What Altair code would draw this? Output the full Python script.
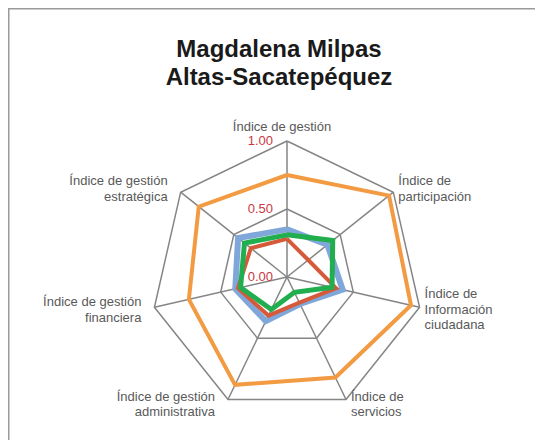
import math
import altair as alt
import pandas as pd

# ---------------- data ----------------
categories = [
    "Índice de gestión",
    "Índice de participación",
    "Índice de Información ciudadana",
    "Índice de servicios",
    "Índice de gestión administrativa",
    "Índice de gestión financiera",
    "Índice de gestión estratégica",
]
category_labels = [
    ["Índice de gestión"],
    ["Índice de", "participación"],
    ["Índice de", "Información", "ciudadana"],
    ["Índice de", "servicios"],
    ["Índice de gestión", "administrativa"],
    ["Índice de gestión", "financiera"],
    ["Índice de gestión", "estratégica"],
]
orange_values = [0.75, 0.96, 0.935, 0.82, 0.88, 0.74, 0.83]
blue_values = [0.35, 0.38, 0.42, 0.22, 0.36, 0.39, 0.46]
red_values = [0.28, 0.20, 0.37, 0.21, 0.315, 0.37, 0.34]
green_values = [0.31, 0.43, 0.34, 0.125, 0.265, 0.35, 0.40]

tick_values = [0.0, 0.5, 1.0]
tick_labels = ["0.00", "0.50", "1.00"]
grid_levels = [0.5, 1.0]
title_lines = ["Magdalena Milpas", "Altas-Sacatepéquez"]

# ---------------- geometry ----------------
W, H = 527, 432
CX, CY, R = 279, 269, 136  # centre (view px) and radius of 1.00
LH = 15.5  # label line height in px
n = len(categories)
angles = [2 * math.pi * i / n for i in range(n)]

xscale = alt.Scale(domain=[-CX / R, (W - CX) / R], range=[0, W], nice=False, zero=False)
yscale = alt.Scale(domain=[-(H - CY) / R, CY / R], range=[H, 0], nice=False, zero=False)


def poly(values, name):
    rows = []
    for k in range(n + 1):
        i = k % n
        a = angles[i]
        rows.append({"serie": name, "order": k, "x": values[i] * math.sin(a), "y": values[i] * math.cos(a)})
    return pd.DataFrame(rows)


def series_layer(values, name, color, width):
    return alt.Chart(poly(values, name)).mark_line(color=color, strokeWidth=width, strokeJoin="miter").encode(
        x=alt.X("x:Q", scale=xscale, axis=None),
        y=alt.Y("y:Q", scale=yscale, axis=None),
        order="order:Q",
    )


# grid rings
ring_rows = []
for lv in grid_levels:
    for k in range(n + 1):
        a = angles[k % n]
        ring_rows.append({"level": lv, "order": k, "x": lv * math.sin(a), "y": lv * math.cos(a)})
rings = alt.Chart(pd.DataFrame(ring_rows)).mark_line(color="#858585", strokeWidth=1.5).encode(
    x=alt.X("x:Q", scale=xscale, axis=None),
    y=alt.Y("y:Q", scale=yscale, axis=None),
    detail="level:N",
    order="order:Q",
)

spoke_df = pd.DataFrame({
    "cat": categories,
    "x0": [0.0] * n,
    "y0": [0.0] * n,
    "x1": [math.sin(a) for a in angles],
    "y1": [math.cos(a) for a in angles],
})
spokes = alt.Chart(spoke_df).mark_rule(color="#858585", strokeWidth=1.5).encode(
    x=alt.X("x0:Q", scale=xscale, axis=None),
    y=alt.Y("y0:Q", scale=yscale, axis=None),
    x2="x1:Q",
    y2="y1:Q",
)

# tick labels
tick_df = pd.DataFrame({"x": [0.0] * len(tick_values), "y": tick_values, "label": tick_labels})
ticks = alt.Chart(tick_df).mark_text(
    align="right", baseline="middle", dx=-14, fontSize=13, color="#C8393F", font="Liberation Sans"
).encode(
    x=alt.X("x:Q", scale=xscale, axis=None),
    y=alt.Y("y:Q", scale=yscale, axis=None),
    text="label:N",
)

# category labels: one row per text line, block centred next to the vertex
lab_rows = []
for i, a in enumerate(angles):
    s, c = math.sin(a), math.cos(a)
    side = "center" if abs(s) < 0.1 else ("left" if s > 0 else "right")
    if abs(s) < 0.1:
        nudge = 0.0
    elif c > 0.5:
        nudge = 3.0
    elif c < -0.5:
        nudge = -5.0
    else:
        nudge = -2.5
    lines = category_labels[i]
    m = len(lines)
    for j, t in enumerate(lines):
        off = (((m - 1) / 2 - j) * LH + nudge) / R
        lab_rows.append({"label": t, "side": side, "x": s, "y": c + off})
lab_df = pd.DataFrame(lab_rows)


def label_layer(side, dx, dy):
    return alt.Chart(lab_df).transform_filter(alt.datum.side == side).mark_text(
        align=side, baseline="middle", dx=dx, dy=dy, fontSize=13, color="#595959",
        font="Liberation Sans",
    ).encode(
        x=alt.X("x:Q", scale=xscale, axis=None),
        y=alt.Y("y:Q", scale=yscale, axis=None),
        text="label:N",
    )


labels = label_layer("center", -5, -14) + label_layer("left", 5, 0) + label_layer("right", -13, 0)


# title
def title_layer(text, ypx):
    return alt.Chart(pd.DataFrame({"line": [text]})).mark_text(
        align="center", baseline="alphabetic", fontSize=24, fontWeight="bold", color="#1a1a1a",
        font="Liberation Sans",
    ).encode(x=alt.value(271), y=alt.value(ypx), text="line:N")


title = title_layer(title_lines[0], 49) + title_layer(title_lines[1], 77)

# frame (top and left edges)
frame_top = alt.Chart(pd.DataFrame({"a": [0]})).mark_rule(color="#9a9a9a", strokeWidth=1.5).encode(
    x=alt.value(0), x2=alt.value(W), y=alt.value(0.75)
)
frame_left = alt.Chart(pd.DataFrame({"a": [0]})).mark_rule(color="#9a9a9a", strokeWidth=1.5).encode(
    x=alt.value(0.75), y=alt.value(0), y2=alt.value(H)
)

chart = alt.layer(
    frame_top,
    frame_left,
    rings,
    spokes,
    series_layer(orange_values, "orange", "#F29B43", 4),
    series_layer(blue_values, "blue", "#7FA7DA", 6),
    series_layer(red_values, "red", "#D65A3A", 4),
    series_layer(green_values, "green", "#21AE4F", 5),
    ticks,
    labels,
    title,
).properties(
    width=W, height=H, padding=0, autosize=alt.AutoSizeParams(type="none")
).configure_view(stroke=None).configure(background="white")

chart.save("out.html", embed_options={"renderer": "svg", "actions": False})
